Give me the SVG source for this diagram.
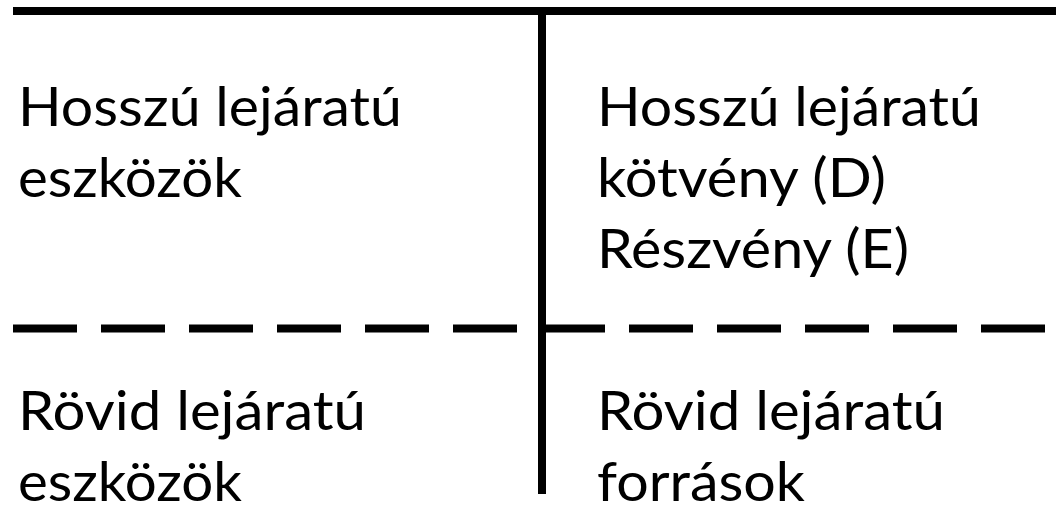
<svg xmlns="http://www.w3.org/2000/svg" width="1056" height="515" viewBox="0 0 1056 515">
<style>
.t{font-family:Lato,"Open Sans","Liberation Sans",sans-serif;font-size:55px;fill:#000}
.ln{stroke:#000;stroke-width:8;fill:none}
.dash{stroke-dasharray:64 24}
</style>
<rect width="1056" height="515" fill="#fff"/>
<g id="connectors">
<line class="ln" x1="13" y1="11" x2="1056" y2="11"/>
<line class="ln" x1="542" y1="11" x2="542" y2="494"/>
<line class="ln dash" x1="13" y1="328.5" x2="1046" y2="328.5"/>
</g>
<g id="long-assets">
<text class="t" x="18" y="126" textLength="384" lengthAdjust="spacingAndGlyphs">Hosszú lejáratú</text>
<text class="t" x="18" y="197" textLength="224" lengthAdjust="spacingAndGlyphs">eszközök</text>
</g>
<g id="long-liabilities">
<text class="t" x="597" y="126" textLength="384" lengthAdjust="spacingAndGlyphs">Hosszú lejáratú</text>
<text class="t" x="597" y="197" textLength="289" lengthAdjust="spacingAndGlyphs">kötvény (D)</text>
<text class="t" x="597" y="268" textLength="312" lengthAdjust="spacingAndGlyphs">Részvény (E)</text>
</g>
<g id="short-assets">
<text class="t" x="18" y="430" textLength="348" lengthAdjust="spacingAndGlyphs">Rövid lejáratú</text>
<text class="t" x="18" y="501" textLength="224" lengthAdjust="spacingAndGlyphs">eszközök</text>
</g>
<g id="short-liabilities">
<text class="t" x="597" y="430" textLength="348" lengthAdjust="spacingAndGlyphs">Rövid lejáratú</text>
<text class="t" x="597" y="501" textLength="208" lengthAdjust="spacingAndGlyphs">források</text>
</g>
</svg>
